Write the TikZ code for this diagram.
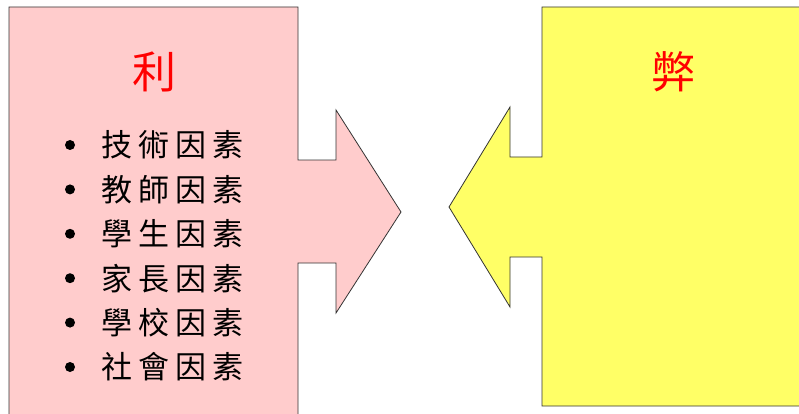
\documentclass[tikz,border=0pt]{standalone}
\usepackage{fontspec}
\newfontfamily\cjk{Noto Sans CJK TC}
\definecolor{pinkfill}{HTML}{FFCCCC}
\definecolor{yellowfill}{HTML}{FFFF66}
\definecolor{edgegray}{HTML}{333333}
\begin{document}
\begin{tikzpicture}[x=1pt,y=-1pt,
  shapeedge/.style={draw=edgegray,line width=0.8pt,line join=miter},
  titletext/.style={font=\cjk\fontsize{44}{46}\selectfont,text=red,inner sep=0pt},
  itemtext/.style={font=\cjk\fontsize{31}{34}\selectfont,text=black,inner sep=0pt,anchor=west},
  bulletdot/.style={circle,fill=black,inner sep=0pt,minimum size=10pt}]
\useasboundingbox (0,0) rectangle (799,414);
\fill[white] (0,0) rectangle (799,414);
\clip (0,0) rectangle (799,414);
% left shape (pink)
\filldraw[fill=pinkfill,shapeedge] (9,7) -- (298,7) -- (298,160) -- (336,160) -- (336,110) -- (401,212)
  -- (336,313) -- (336,263) -- (298,263) -- (298,430) -- (9,430) -- cycle;
% right shape (yellow)
\filldraw[fill=yellowfill,shapeedge] (542,7) -- (810,7) -- (810,406) -- (542,406) -- (542,257) -- (510,257)
  -- (510,307) -- (449,207) -- (510,107) -- (510,157) -- (542,157) -- cycle;
% titles
\node[titletext] (li) at (154,72) {利};
\node[titletext] (bi) at (673,72) {弊};
% items
\foreach \n/\t [count=\i from 0] in {a/技\kern6pt 術\kern6pt 因\kern6pt 素,
  b/教\kern6pt 師\kern6pt 因\kern6pt 素,
  c/學\kern6pt 生\kern6pt 因\kern6pt 素,
  d/家\kern6pt 長\kern6pt 因\kern6pt 素,
  e/學\kern6pt 校\kern6pt 因\kern6pt 素,
  f/社\kern6pt 會\kern6pt 因\kern6pt 素}{
  \node[bulletdot] (dot\n) at (70,145+44.4*\i) {};
  \node[itemtext] (item\n) at (101,145+44.4*\i) {\t};
}
\end{tikzpicture}
\end{document}
